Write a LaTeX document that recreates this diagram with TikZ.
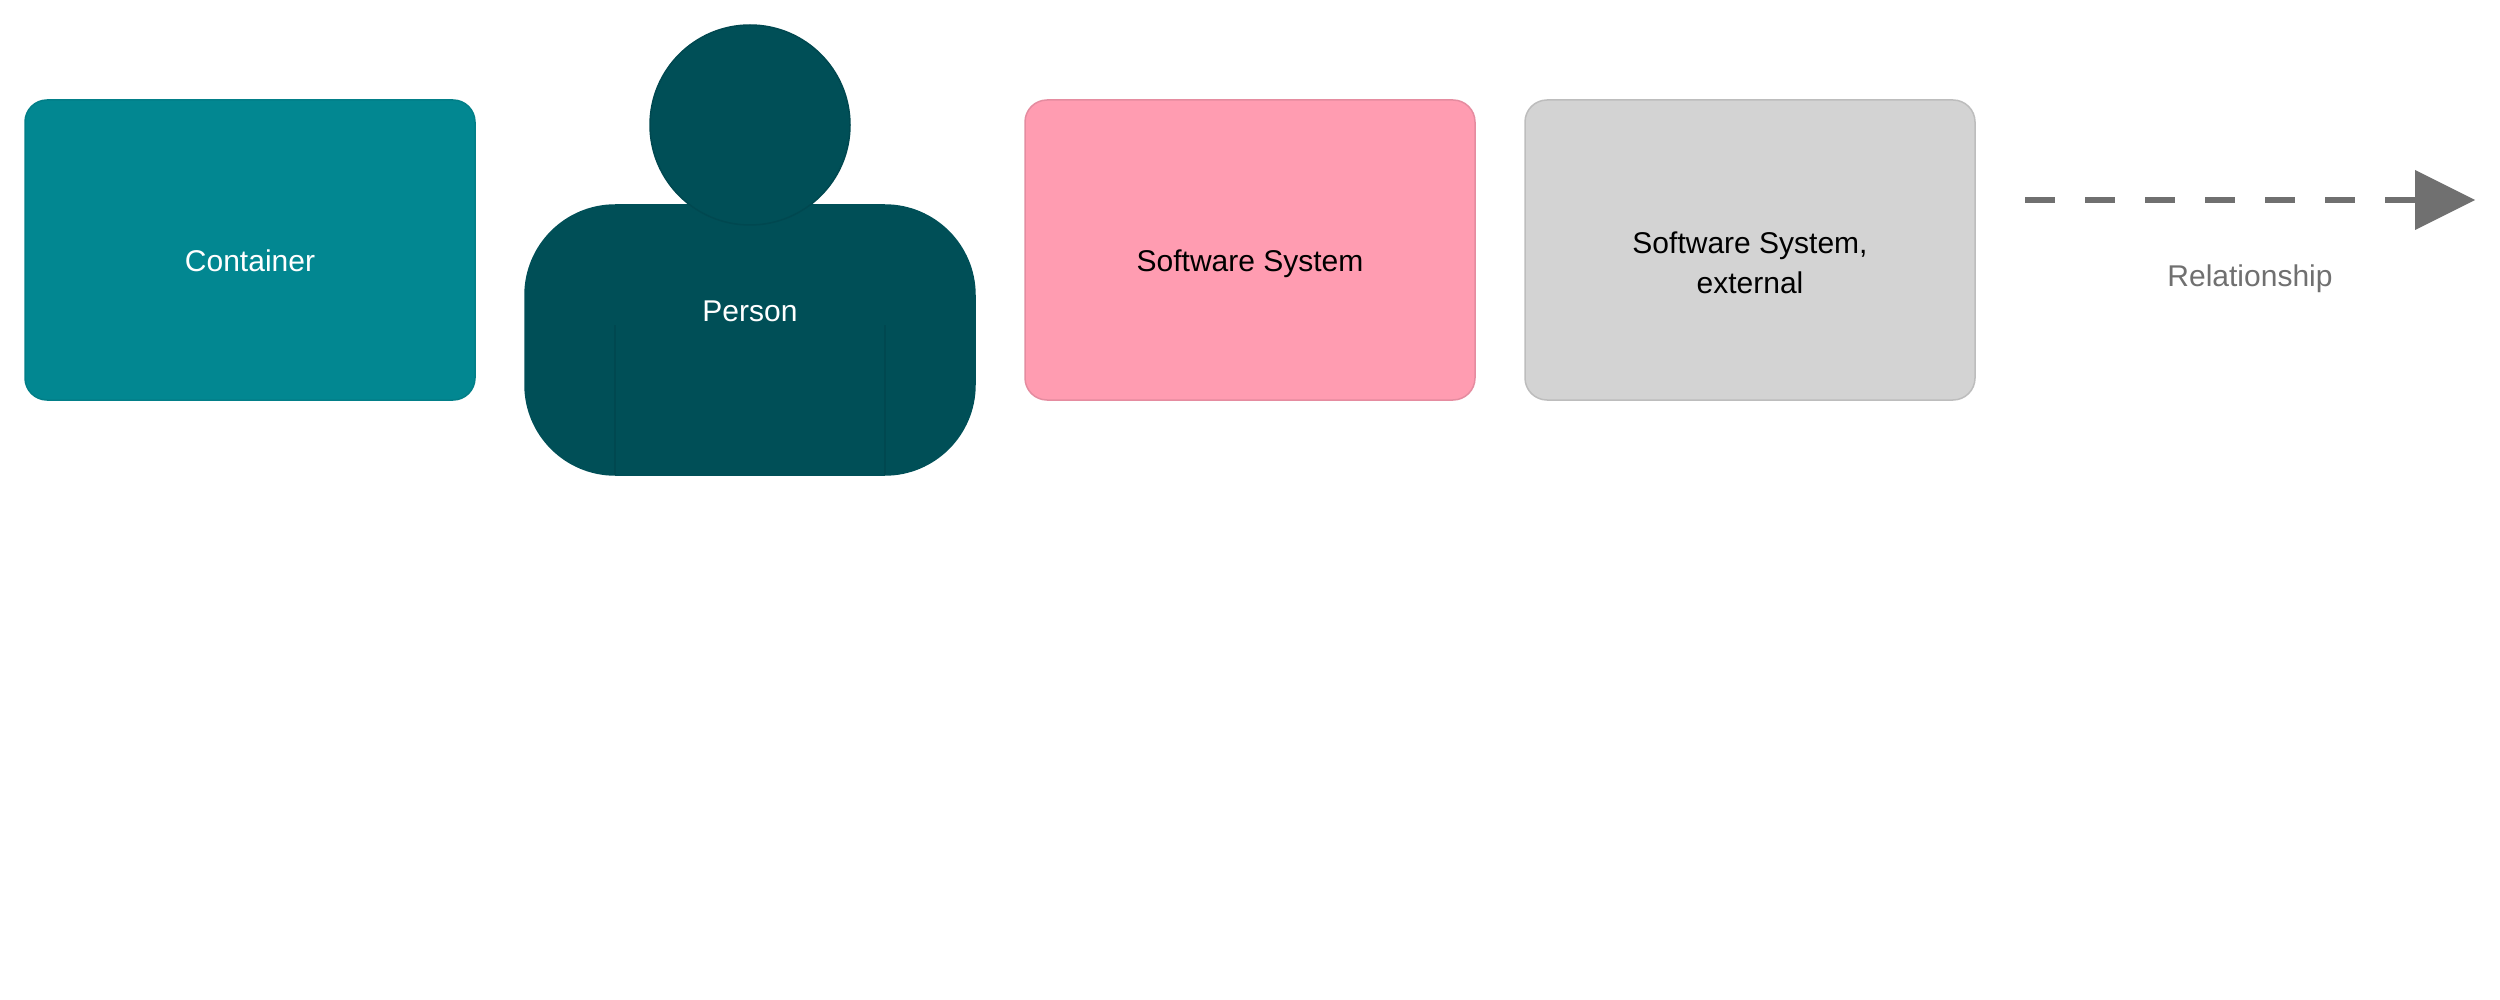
\documentclass[tikz,border=0pt]{standalone}
\usepackage{fontspec}
\setmainfont{Liberation Sans}
\usetikzlibrary{arrows.meta}
\definecolor{containerfill}{HTML}{028791}
\definecolor{containerline}{HTML}{027F88}
\definecolor{personfill}{HTML}{004F57}
\definecolor{personline}{HTML}{004850}
\definecolor{systemfill}{HTML}{FF9CB1}
\definecolor{systemline}{HTML}{E58CA0}
\definecolor{externalfill}{HTML}{D3D3D3}
\definecolor{externalline}{HTML}{BDBDBD}
\definecolor{relcolor}{HTML}{707070}
\newcommand{\boxlabel}[2]{\raisebox{#1}[0pt][0pt]{\begin{tabular}[b]{@{}c@{}}#2\end{tabular}}}
\tikzset{
  card/.style={rectangle, rounded corners=22pt, minimum width=450pt, minimum height=300pt,
    inner sep=0pt, outer sep=0pt, line width=1.5pt, font=\fontsize{30}{40}\selectfont},
  containercard/.style={card, fill=containerfill, draw=containerline, text=white},
  systemcard/.style={card, fill=systemfill, draw=systemline, text=black},
  externalcard/.style={card, fill=externalfill, draw=externalline, text=black},
  personbody/.style={rectangle, rounded corners=91pt, minimum width=451.5pt, minimum height=271.5pt,
    inner sep=0pt, outer sep=0pt, fill=personfill,
    text=white, font=\fontsize{30}{40}\selectfont},
  personhead/.style={circle, minimum size=200pt, inner sep=0pt, outer sep=0pt,
    line width=1.5pt, fill=personfill, draw=personline},
  personseam/.style={draw=personline, line width=1.5pt},
  relation/.style={draw=relcolor, line width=6pt, dash pattern=on 30pt off 30pt,
    -{Triangle[length=60pt,width=60pt,line width=0pt,sep=0pt]}},
  rellabel/.style={anchor=base, text=relcolor, inner sep=0pt, font=\fontsize{30}{40}\selectfont},
}
\begin{document}
\begin{tikzpicture}[x=1pt,y=-1pt]
\useasboundingbox (0,0) rectangle (2500,1000);
\node[containercard] (container) at (250,250) {\boxlabel{-22pt}{Container}};
\node[personbody] (body) at (750,340) {\boxlabel{18.5pt}{Person}};
\coordinate (seamLtop) at (615,325);
\coordinate (seamLbot) at (615,475);
\coordinate (seamRtop) at (885,325);
\coordinate (seamRbot) at (885,475);
\draw[personseam] (seamLtop) -- (seamLbot);
\draw[personseam] (seamRtop) -- (seamRbot);
\node[personhead] (head) at (750,125) {};
\node[systemcard] (system) at (1250,250) {\boxlabel{-22pt}{Software System}};
\node[externalcard] (external) at (1750,250) {\boxlabel{-43.5pt}{Software System,\\external}};
\coordinate (relstart) at (2025,200);
\coordinate (relend) at (2475,200);
\draw[relation] (relstart) -- (relend);
\node[rellabel] (rel) at (2250,286.5) {Relationship};
\end{tikzpicture}
\end{document}
